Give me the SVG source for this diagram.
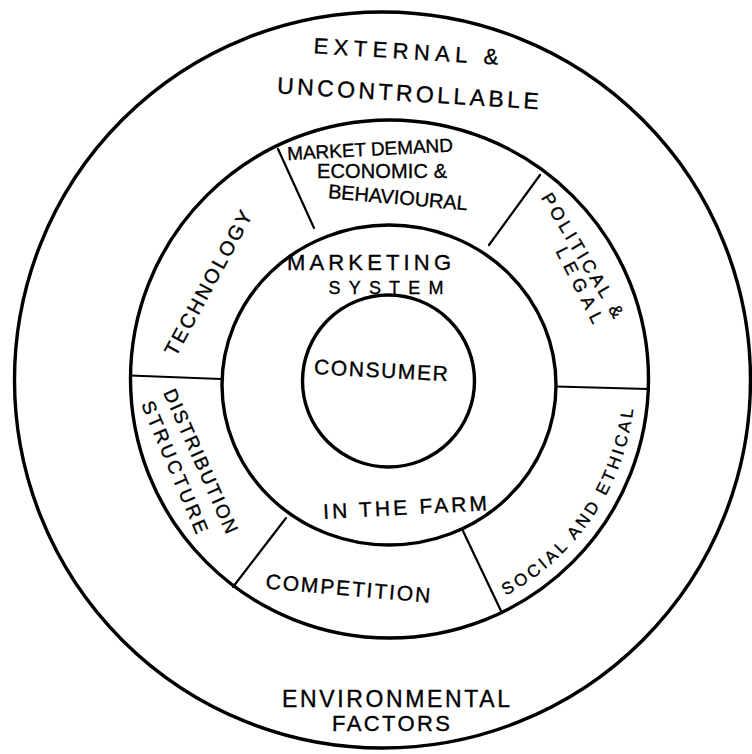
<svg xmlns="http://www.w3.org/2000/svg" width="752" height="754" viewBox="0 0 752 754">
<style>
.ring{fill:none;stroke:#000;stroke-width:3.4}
.div{fill:none;stroke:#000;stroke-width:2.2;stroke-linecap:round}
text{font-family:"Liberation Sans","DejaVu Sans",sans-serif;fill:#000;text-anchor:middle;stroke:#000;stroke-width:0.35}
</style>
<defs>
<path id="socialArc" d="M 500.7 598.2 A 246 246 0 0 0 634.1 400.4"/>
</defs>
<rect x="0" y="0" width="752" height="754" fill="#fff"/>
<g id="environment">
<circle class="ring" cx="382.5" cy="380" r="368"/>
<text font-size="22" transform="translate(406 51) rotate(3.5)" y="7.9" textLength="185">EXTERNAL &amp;</text>
<text font-size="23" transform="translate(408 93) rotate(3.5)" y="8.3" textLength="262">UNCONTROLLABLE</text>
<text font-size="23" transform="translate(396 699)" y="8.3" textLength="228">ENVIRONMENTAL</text>
<text font-size="22" transform="translate(391 723)" y="7.9" textLength="118">FACTORS</text>
</g>
<g id="factors-ring">
<circle class="ring" cx="389.5" cy="379" r="259"/>
</g>
<g id="market-demand">
<text font-size="19" transform="translate(370 149) rotate(-3)" y="6.8" textLength="166">MARKET DEMAND</text>
<text font-size="20" transform="translate(382 171)" y="7.2" textLength="130">ECONOMIC &amp;</text>
<text font-size="20" transform="translate(398 197) rotate(5)" y="7.2" textLength="140">BEHAVIOURAL</text>
</g>
<g id="technology">
<text font-size="20" transform="translate(208 283) rotate(-61.5)" y="7.2" textLength="162">TECHNOLOGY</text>
</g>
<g id="political-legal">
<text font-size="18" transform="translate(583 255) rotate(59)" y="6.5" textLength="142">POLITICAL &amp;</text>
<text font-size="18" transform="translate(580 285) rotate(63)" y="6.5" textLength="83">LEGAL</text>
</g>
<g id="social-ethical">
<text font-size="17" letter-spacing="3.3"><textPath href="#socialArc" startOffset="50%">SOCIAL AND ETHICAL</textPath></text>
</g>
<g id="competition">
<text font-size="21" transform="translate(348 588) rotate(5)" y="7.6" textLength="165">COMPETITION</text>
</g>
<g id="distribution-structure">
<text font-size="19" transform="translate(201 461) rotate(66)" y="6.8" textLength="156">DISTRIBUTION</text>
<text font-size="19" transform="translate(175 467) rotate(67)" y="6.8" textLength="142">STRUCTURE</text>
</g>
<g id="marketing-system">
<ellipse class="ring" cx="389" cy="385" rx="167" ry="160"/>
<text font-size="22" transform="translate(369 262)" y="7.9" textLength="164">MARKETING</text>
<text font-size="18" transform="translate(386 287)" y="6.5" textLength="115">SYSTEM</text>
<text font-size="21" transform="translate(405 507) rotate(-3)" y="7.6" textLength="164">IN THE FARM</text>
</g>
<g id="consumer">
<circle class="ring" cx="388.5" cy="381" r="86"/>
<text font-size="21" transform="translate(381 370) rotate(3)" y="7.6" textLength="134" stroke-width="0.8">CONSUMER</text>
</g>
<g id="connectors">
<line class="div" x1="278" y1="149" x2="314" y2="228"/>
<line class="div" x1="540" y1="175" x2="489" y2="245"/>
<line class="div" x1="130" y1="375.5" x2="221" y2="379"/>
<line class="div" x1="556" y1="386.5" x2="648" y2="389"/>
<line class="div" x1="286" y1="518" x2="233" y2="587"/>
<line class="div" x1="463" y1="531" x2="502" y2="613"/>
</g>
</svg>
